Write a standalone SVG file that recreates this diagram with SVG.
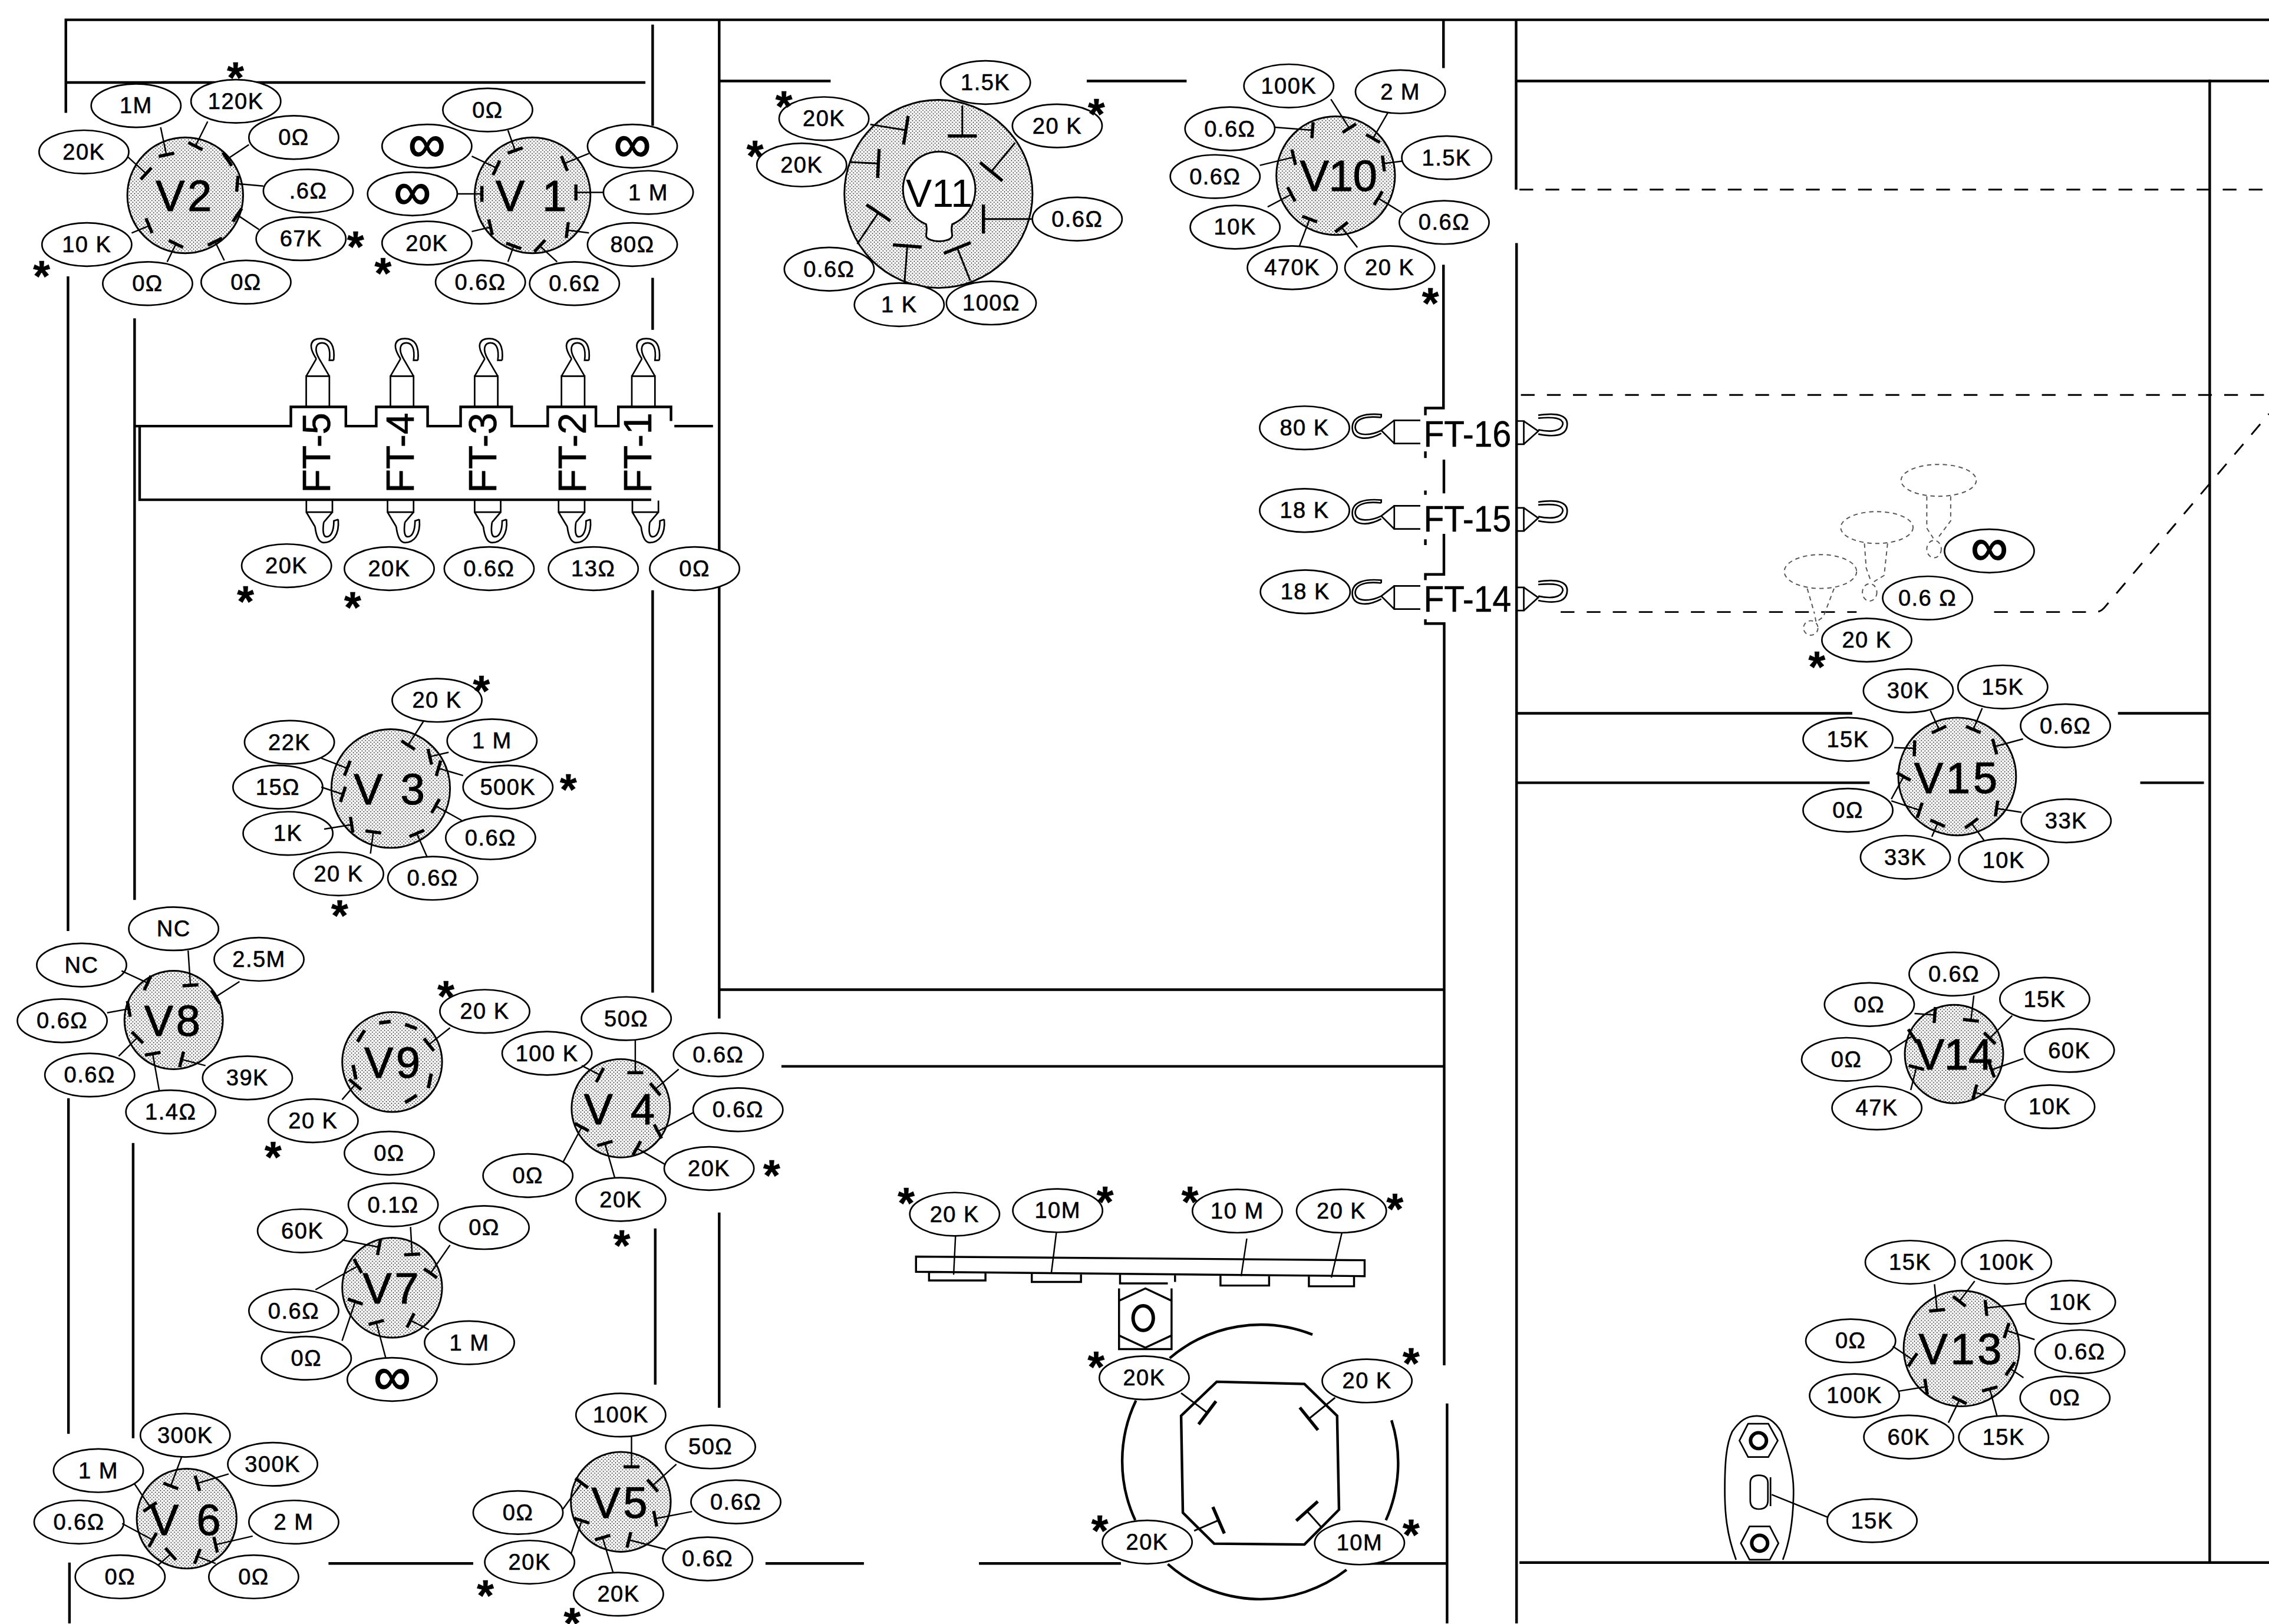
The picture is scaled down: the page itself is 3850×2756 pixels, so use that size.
<svg xmlns="http://www.w3.org/2000/svg" xmlns:xlink="http://www.w3.org/1999/xlink" width="3850" height="2756" viewBox="0 0 3850 2756">
<style>
text{font-family:"Liberation Sans",Arial,sans-serif;fill:#000;text-anchor:middle}
.t text{font-size:15.5px;dominant-baseline:central;letter-spacing:.6px;stroke:#000;stroke-width:.25px}
text.i{font-size:36px;letter-spacing:0;stroke-width:.7px}
.t use{fill:#fff;stroke:#000;stroke-width:1.1px}
text.s{font-size:30px;font-weight:bold;dominant-baseline:auto}
text.v{font-size:30px;letter-spacing:2px;stroke:#000;stroke-width:.5px;dominant-baseline:auto}
.tube{fill:url(#dots);stroke:#000;stroke-width:1.2px}
.w{fill:none;stroke:#000;stroke-width:1.8px}
.d{fill:none;stroke:#000;stroke-width:1.2px;stroke-dasharray:9.5 8.5}
.p{fill:none;stroke:#555;stroke-width:.8px;stroke-dasharray:3 2.5}
.l line{stroke:#000;stroke-width:1px;marker-end:url(#t)}
.l line.b{marker-end:url(#tl);stroke-width:1.2px}
.l line.n{marker-end:none}
.h{fill:none;stroke:#000;stroke-width:1.1px}
.m{fill:none;stroke:#000;stroke-width:1.4px}
</style>
<defs>
<pattern id="dots" width="2.4" height="2.4" patternUnits="userSpaceOnUse">
<rect width="2.4" height="2.4" fill="#fff"/>
<circle cx=".6" cy=".6" r=".36" fill="#000"/><circle cx="1.8" cy="1.8" r=".36" fill="#000"/>
</pattern>
<marker id="t" markerWidth="12" markerHeight="14" refX="6" refY="7" orient="auto" markerUnits="userSpaceOnUse"><path d="M6,1.5 V12.5" stroke="#000" stroke-width="2.2" fill="none"/></marker>
<marker id="tl" markerWidth="12" markerHeight="26" refX="6" refY="13" orient="auto" markerUnits="userSpaceOnUse"><path d="M6,3 V23" stroke="#000" stroke-width="2.2" fill="none"/></marker>
<ellipse id="o" rx="31" ry="15"/>
<g id="hu" class="h"><path d="M-8,0 V-21 H8 V0 M-8,-21 L-1,-33 M8,-21 L1,-33 M-1,-33 C-7,-42 -5,-47 2,-47 C9,-47 12,-42 11,-32 M1,-33 C-3,-40 -1,-44 3,-44 C7,-44 9,-40 8,-32 L11,-32"/></g>
<g id="hd" class="h"><path d="M-9,0 V8 H9 V0 M-9,8 L-3,18 M9,8 L3,15 M-3,18 C-2,26 0,29 3,29 C9,29 14,24 13,13 M3,15 C2,22 3,25 5,25 C8,25 10,21 10,14 L13,13"/></g>
<g id="hl" class="h"><path d="M0,-8 H-18 V8 H0 M-18,-8 L-27,-1 L-18,8 M-27,-1 C-33,2 -44,4 -45,-3 C-45,-10 -36,-11 -27,-10 M-27,1 C-36,6 -47,6 -47,-3 C-47,-11 -38,-13 -27,-12 L-27,-10"/></g>
<g id="hr" class="h"><path d="M0,-8 H5 V8 H0 M5,-8 L15,-1 L5,8 M15,1 C25,3 35,3 35,-6 C35,-12 28,-14 15,-12 M15,-2 C24,0 31,-1 32,-6 C32,-10 26,-11 15,-10"/></g>
</defs>
<rect width="3850" height="2756" fill="#fff"/>
<g transform="scale(2.4554)">
<g id="wires">
<path class="w" d="M45.5,78 V13.7 H1568 M45.5,57 H446 M47,191 V643.5 M47.3,759 V991 M48,1080 V1122 M93,220 V622 M92,790 V994 M451,17 V87 M451,192 V228 M451,408 V686 M452.8,849 V957 M497,14 V704 M497,838 V973 M497,56 H574 M751,56 H820 M997.5,14 V47 M997.5,183 V282 H985 V287 M985,312 V316.5 M997.8,317.7 V341 M985,339 V342 M985,372.7 V376.7 M997.8,369 V397 H985 V401 M985,428 V431 H998 V943.6 M1000,970 V1122 M1047.7,14 V131 M1048,168 V1122 M1048,56 H1568 M1527,55 V1080 M93,294.5 H201 V281.2 H239 V294.5 H260 V281.2 H295.5 V294.5 H318.3 V281.2 H353.6 V294.5 H378.5 V281.2 H411.8 V294.5 H427.3 V281.2 H463.7 V291 M466,294.5 H492.7 M96.5,294.5 V345.4 H450 M497,684 H998 M540,737 H998 M1048,493 H1280 M1463.6,493 H1527 M1048,541 H1292 M1479,541 H1523 M227,1080.6 H327 M529,1080.6 H597 M676.5,1080.6 H774.6 M941,1080.6 H1000 M1050,1080 H1568"/>
<path class="d" d="M1050,131 H1568 M1051,273 H1568 M1078.5,423 H1283 M1378,423 H1448 Q1452,423 1455,419 L1568,286"/>
</g>

<g id="V2" class="t">
<circle class="tube" cx="128" cy="135" r="40"/><text class="v" x="128" y="146">V2</text>
<use href="#o" x="94" y="73"/><text x="94" y="73">1M</text>
<use href="#o" x="163" y="70"/><text x="163" y="70">120K</text>
<use href="#o" x="203" y="95"/><text x="203" y="95">0Ω</text>
<use href="#o" x="213" y="132"/><text x="213" y="132">.6Ω</text>
<use href="#o" x="208" y="165"/><text x="208" y="165">67K</text>
<use href="#o" x="170" y="195"/><text x="170" y="195">0Ω</text>
<use href="#o" x="102" y="196"/><text x="102" y="196">0Ω</text>
<use href="#o" x="60" y="169"/><text x="60" y="169">10 K</text>
<use href="#o" x="58" y="105"/><text x="58" y="105">20K</text>
<text class="s" x="163" y="64">*</text><text class="s" x="246" y="181">*</text><text class="s" x="29" y="201">*</text>
</g>

<g id="V1" class="t">
<circle class="tube" cx="368" cy="135" r="40"/><text class="v" x="368" y="146">V 1</text>
<use href="#o" x="337" y="76"/><text x="337" y="76">0Ω</text>
<use href="#o" x="295" y="101"/><text class="i" x="295" y="99">∞</text>
<use href="#o" x="437" y="101"/><text class="i" x="437" y="99">∞</text>
<use href="#o" x="448" y="133"/><text x="448" y="133">1 M</text>
<use href="#o" x="437" y="169"/><text x="437" y="169">80Ω</text>
<use href="#o" x="397" y="196"/><text x="397" y="196">0.6Ω</text>
<use href="#o" x="332" y="195"/><text x="332" y="195">0.6Ω</text>
<use href="#o" x="295" y="168"/><text x="295" y="168">20K</text>
<use href="#o" x="285" y="134"/><text class="i" x="285" y="132">∞</text>
<text class="s" x="265" y="199">*</text>
</g>

<g id="V11" class="t">
<circle class="tube" cx="648.5" cy="134" r="65"/>
<path d="M640,155 A25,26 0 1 1 658,155 C657,159 658,161 658,163 C657,168 641,168 640,163 C640,161 641,159 640,155 Z" fill="#fff" stroke="#000" stroke-width="1.2"/>
<text class="v" x="649" y="143" style="font-size:27px;letter-spacing:0;stroke-width:0">V11</text>
<use href="#o" x="681" y="57"/><text x="681" y="57">1.5K</text>
<use href="#o" x="569.4" y="82"/><text x="569.4" y="82">20K</text>
<use href="#o" x="730.6" y="87"/><text x="730.6" y="87">20 K</text>
<use href="#o" x="554" y="114"/><text x="554" y="114">20K</text>
<use href="#o" x="744.4" y="151.4"/><text x="744.4" y="151.4">0.6Ω</text>
<use href="#o" x="573" y="186"/><text x="573" y="186">0.6Ω</text>
<use href="#o" x="621.4" y="210.6"/><text x="621.4" y="210.6">1 K</text>
<use href="#o" x="685" y="209.4"/><text x="685" y="209.4">100Ω</text>
<text class="s" x="542" y="84">*</text><text class="s" x="522" y="118">*</text><text class="s" x="758" y="89">*</text>
</g>

<g id="V10" class="t">
<circle class="tube" cx="923" cy="121.4" r="41"/><text class="v" x="925" y="132" style="letter-spacing:0">V10</text>
<use href="#o" x="890.6" y="59.4"/><text x="890.6" y="59.4">100K</text>
<use href="#o" x="967.7" y="63.4"/><text x="967.7" y="63.4">2 M</text>
<use href="#o" x="849.9" y="89"/><text x="849.9" y="89">0.6Ω</text>
<use href="#o" x="999.7" y="109"/><text x="999.7" y="109">1.5K</text>
<use href="#o" x="839.7" y="122"/><text x="839.7" y="122">0.6Ω</text>
<use href="#o" x="998" y="153.7"/><text x="998" y="153.7">0.6Ω</text>
<use href="#o" x="853.5" y="157"/><text x="853.5" y="157">10K</text>
<use href="#o" x="893" y="185"/><text x="893" y="185">470K</text>
<use href="#o" x="960.4" y="185"/><text x="960.4" y="185">20 K</text>
<text class="s" x="988.8" y="220">*</text>
</g>

<g id="V3" class="t">
<circle class="tube" cx="270" cy="545" r="41"/><text class="v" x="270" y="556">V 3</text>
<use href="#o" x="302" y="484"/><text x="302" y="484">20 K</text>
<use href="#o" x="200" y="513"/><text x="200" y="513">22K</text>
<use href="#o" x="340" y="512"/><text x="340" y="512">1 M</text>
<use href="#o" x="192" y="544"/><text x="192" y="544">15Ω</text>
<use href="#o" x="351" y="544"/><text x="351" y="544">500K</text>
<use href="#o" x="199" y="576"/><text x="199" y="576">1K</text>
<use href="#o" x="339" y="579"/><text x="339" y="579">0.6Ω</text>
<use href="#o" x="234" y="604"/><text x="234" y="604">20 K</text>
<use href="#o" x="299" y="607"/><text x="299" y="607">0.6Ω</text>
<text class="s" x="333" y="488">*</text><text class="s" x="393" y="556">*</text><text class="s" x="235" y="643">*</text>
</g>

<g id="V8" class="t">
<circle class="tube" cx="120" cy="705" r="34"/><text class="v" x="120" y="716">V8</text>
<use href="#o" x="120" y="641.9"/><text x="120" y="641.9">NC</text>
<use href="#o" x="56.4" y="667"/><text x="56.4" y="667">NC</text>
<use href="#o" x="179" y="663"/><text x="179" y="663">2.5M</text>
<use href="#o" x="43" y="705.5"/><text x="43" y="705.5">0.6Ω</text>
<use href="#o" x="171" y="745"/><text x="171" y="745">39K</text>
<use href="#o" x="62" y="743"/><text x="62" y="743">0.6Ω</text>
<use href="#o" x="118" y="768.5"/><text x="118" y="768.5">1.4Ω</text>
</g>

<g id="V9" class="t">
<circle class="tube" cx="271" cy="734" r="34.5"/><text class="v" x="272" y="745">V9</text>
<use href="#o" x="335" y="699"/><text x="335" y="699">20 K</text>
<use href="#o" x="216.4" y="774.6"/><text x="216.4" y="774.6">20 K</text>
<use href="#o" x="269" y="797"/><text x="269" y="797">0Ω</text>
<text class="s" x="308.4" y="699">*</text><text class="s" x="189" y="810">*</text>
</g>

<g id="V4" class="t">
<circle class="tube" cx="429" cy="766" r="34"/><text class="v" x="429" y="777">V 4</text>
<use href="#o" x="432.8" y="704"/><text x="432.8" y="704">50Ω</text>
<use href="#o" x="378" y="728"/><text x="378" y="728">100 K</text>
<use href="#o" x="496.4" y="729"/><text x="496.4" y="729">0.6Ω</text>
<use href="#o" x="510" y="767"/><text x="510" y="767">0.6Ω</text>
<use href="#o" x="490" y="807.6"/><text x="490" y="807.6">20K</text>
<use href="#o" x="429" y="829"/><text x="429" y="829">20K</text>
<use href="#o" x="364.8" y="812.5"/><text x="364.8" y="812.5">0Ω</text>
<text class="s" x="533.5" y="822.6">*</text><text class="s" x="430" y="871">*</text>
</g>

<g id="V7" class="t">
<circle class="tube" cx="271" cy="890" r="34.5"/><text class="v" x="271" y="901">V7</text>
<use href="#o" x="271.7" y="832.7"/><text x="271.7" y="832.7">0.1Ω</text>
<use href="#o" x="209" y="850.7"/><text x="209" y="850.7">60K</text>
<use href="#o" x="334.6" y="848.4"/><text x="334.6" y="848.4">0Ω</text>
<use href="#o" x="203" y="906"/><text x="203" y="906">0.6Ω</text>
<use href="#o" x="211.7" y="938.7"/><text x="211.7" y="938.7">0Ω</text>
<use href="#o" x="271" y="953.4"/><text class="i" x="271" y="951">∞</text>
<use href="#o" x="324.4" y="928"/><text x="324.4" y="928">1 M</text>
</g>

<g id="V6" class="t">
<circle class="tube" cx="129" cy="1049.6" r="34.5"/><text class="v" x="129" y="1061">V 6</text>
<use href="#o" x="128" y="992"/><text x="128" y="992">300K</text>
<use href="#o" x="68" y="1016.4"/><text x="68" y="1016.4">1 M</text>
<use href="#o" x="188.4" y="1012"/><text x="188.4" y="1012">300K</text>
<use href="#o" x="54.6" y="1052"/><text x="54.6" y="1052">0.6Ω</text>
<use href="#o" x="203" y="1052"/><text x="203" y="1052">2 M</text>
<use href="#o" x="83" y="1089.8"/><text x="83" y="1089.8">0Ω</text>
<use href="#o" x="175.3" y="1089.8"/><text x="175.3" y="1089.8">0Ω</text>
</g>

<g id="V5" class="t">
<circle class="tube" cx="429" cy="1038" r="34.5"/><text class="v" x="429" y="1049">V5</text>
<use href="#o" x="429" y="978"/><text x="429" y="978">100K</text>
<use href="#o" x="491" y="1000"/><text x="491" y="1000">50Ω</text>
<use href="#o" x="508.5" y="1038"/><text x="508.5" y="1038">0.6Ω</text>
<use href="#o" x="358" y="1045.4"/><text x="358" y="1045.4">0Ω</text>
<use href="#o" x="489" y="1077.4"/><text x="489" y="1077.4">0.6Ω</text>
<use href="#o" x="366" y="1079.7"/><text x="366" y="1079.7">20K</text>
<use href="#o" x="427.4" y="1101.8"/><text x="427.4" y="1101.8">20K</text>
<text class="s" x="335.7" y="1113">*</text><text class="s" x="395.7" y="1132">*</text>
</g>

<g id="V15" class="t">
<circle class="tube" cx="1352.5" cy="536.7" r="40.7"/><text class="v" x="1352.5" y="548">V15</text>
<use href="#o" x="1318.7" y="477.4"/><text x="1318.7" y="477.4">30K</text>
<use href="#o" x="1384" y="474.8"/><text x="1384" y="474.8">15K</text>
<use href="#o" x="1427.3" y="501.6"/><text x="1427.3" y="501.6">0.6Ω</text>
<use href="#o" x="1277" y="511"/><text x="1277" y="511">15K</text>
<use href="#o" x="1277" y="560"/><text x="1277" y="560">0Ω</text>
<use href="#o" x="1427.8" y="567.3"/><text x="1427.8" y="567.3">33K</text>
<use href="#o" x="1316.7" y="592.5"/><text x="1316.7" y="592.5">33K</text>
<use href="#o" x="1384.6" y="594.6"/><text x="1384.6" y="594.6">10K</text>
</g>

<g id="V14" class="t">
<circle class="tube" cx="1350.3" cy="728.5" r="34"/><text class="v" x="1350.3" y="739" style="letter-spacing:0">V14</text>
<use href="#o" x="1350.3" y="673.2"/><text x="1350.3" y="673.2">0.6Ω</text>
<use href="#o" x="1291.8" y="694.3"/><text x="1291.8" y="694.3">0Ω</text>
<use href="#o" x="1413" y="690.6"/><text x="1413" y="690.6">15K</text>
<use href="#o" x="1276" y="732.2"/><text x="1276" y="732.2">0Ω</text>
<use href="#o" x="1430" y="726"/><text x="1430" y="726">60K</text>
<use href="#o" x="1297" y="765.8"/><text x="1297" y="765.8">47K</text>
<use href="#o" x="1416.5" y="764.9"/><text x="1416.5" y="764.9">10K</text>
</g>

<g id="V13" class="t">
<circle class="tube" cx="1355.5" cy="932" r="40"/><text class="v" x="1355.5" y="943">V13</text>
<use href="#o" x="1320" y="872.4"/><text x="1320" y="872.4">15K</text>
<use href="#o" x="1386.6" y="872.4"/><text x="1386.6" y="872.4">100K</text>
<use href="#o" x="1430.8" y="900"/><text x="1430.8" y="900">10K</text>
<use href="#o" x="1278.9" y="926.7"/><text x="1278.9" y="926.7">0Ω</text>
<use href="#o" x="1437.3" y="934.2"/><text x="1437.3" y="934.2">0.6Ω</text>
<use href="#o" x="1427" y="966.2"/><text x="1427" y="966.2">0Ω</text>
<use href="#o" x="1281.5" y="964.6"/><text x="1281.5" y="964.6">100K</text>
<use href="#o" x="1319" y="993.2"/><text x="1319" y="993.2">60K</text>
<use href="#o" x="1384.6" y="993.5"/><text x="1384.6" y="993.5">15K</text>
</g>

<g id="FT-1-5" class="t">
<text transform="translate(228,313) rotate(-90)" style="font-size:27px;letter-spacing:0;dominant-baseline:auto">FT-5</text>
<text transform="translate(285.7,313) rotate(-90)" style="font-size:27px;letter-spacing:0;dominant-baseline:auto">FT-4</text>
<text transform="translate(342.8,313) rotate(-90)" style="font-size:27px;letter-spacing:0;dominant-baseline:auto">FT-3</text>
<text transform="translate(405,313) rotate(-90)" style="font-size:27px;letter-spacing:0;dominant-baseline:auto">FT-2</text>
<text transform="translate(450,313) rotate(-90)" style="font-size:27px;letter-spacing:0;dominant-baseline:auto">FT-1</text>
<use href="#hu" x="219.6" y="281" style="fill:none"/><use href="#hu" x="277.8" y="281" style="fill:none"/><use href="#hu" x="336" y="281" style="fill:none"/><use href="#hu" x="396" y="281" style="fill:none"/><use href="#hu" x="444.6" y="281" style="fill:none"/>
<use href="#hd" x="220.7" y="346" style="fill:none"/><use href="#hd" x="276.8" y="346" style="fill:none"/><use href="#hd" x="337" y="346" style="fill:none"/><use href="#hd" x="395" y="346" style="fill:none"/><use href="#hd" x="446" y="346" style="fill:none"/>
<use href="#o" x="198" y="391"/><text x="198" y="391">20K</text>
<use href="#o" x="269" y="393"/><text x="269" y="393">20K</text>
<use href="#o" x="338" y="393"/><text x="338" y="393">0.6Ω</text>
<use href="#o" x="410" y="393"/><text x="410" y="393">13Ω</text>
<use href="#o" x="480" y="393"/><text x="480" y="393">0Ω</text>
<text class="s" x="170" y="426">*</text><text class="s" x="244" y="430">*</text>
</g>

<g id="FT-14-16" class="t">
<text x="1014" y="308.7" textLength="60.5" lengthAdjust="spacingAndGlyphs" style="font-size:26px;letter-spacing:0;dominant-baseline:auto">FT-16</text>
<text x="1014" y="367.2" textLength="60.5" lengthAdjust="spacingAndGlyphs" style="font-size:26px;letter-spacing:0;dominant-baseline:auto">FT-15</text>
<text x="1014" y="422.9" textLength="60.5" lengthAdjust="spacingAndGlyphs" style="font-size:26px;letter-spacing:0;dominant-baseline:auto">FT-14</text>
<use href="#hl" x="981.5" y="298.5" style="fill:none"/><use href="#hl" x="981.5" y="357.6" style="fill:none"/><use href="#hl" x="981.5" y="413" style="fill:none"/>
<use href="#hr" x="1048" y="299" style="fill:none"/><use href="#hr" x="1048" y="359" style="fill:none"/><use href="#hr" x="1048" y="414" style="fill:none"/>
<use href="#o" x="901.5" y="295.7"/><text x="901.5" y="295.7">80 K</text>
<use href="#o" x="901.5" y="352.8"/><text x="901.5" y="352.8">18 K</text>
<use href="#o" x="902" y="409"/><text x="902" y="409">18 K</text>
</g>

<g id="probes" class="t">
<ellipse class="p" cx="1339.7" cy="332" rx="26" ry="11"/><path class="p" d="M1331.5,343 V365 L1336,372 M1348,343 V360 L1339,372"/><ellipse class="p" cx="1336.5" cy="379.5" rx="5" ry="6"/>
<ellipse class="p" cx="1297" cy="364.6" rx="25" ry="11"/><path class="p" d="M1288.4,375.6 L1289.6,392.5 L1293,402 M1304.4,375.6 L1302,397.7 L1295,402"/><ellipse class="p" cx="1292" cy="409.4" rx="5" ry="6"/>
<ellipse class="p" cx="1258" cy="395" rx="25" ry="11.7"/><path class="p" d="M1248.9,406.8 L1253.8,423.7 M1267.4,406.8 L1260,426.3 L1255,430 L1253.8,423.7"/><ellipse class="p" cx="1251.3" cy="434" rx="5" ry="5"/>
<use href="#o" x="1374.7" y="380.8"/><text class="i" x="1374.7" y="378">∞</text>
<use href="#o" x="1332" y="413.3"/><text x="1332" y="413.3">0.6 Ω</text>
<use href="#o" x="1290" y="442.4"/><text x="1290" y="442.4">20 K</text>
<text class="s" x="1255.8" y="471.4">*</text>
</g>

<g id="lug" class="t">
<path class="h" d="M1199.7,1078 C1193,1060 1191.9,1045 1191.9,1030 C1191.9,1010 1193,998 1197,989.5 C1202,982 1207,978.6 1214,978.6 C1222,978.6 1227,983 1230.8,989.5 C1236,1005 1239.4,1018 1239.4,1030 C1239.4,1050 1237,1065 1232,1078"/>
<path class="h" d="M1202,995.7 L1208,984 H1222 L1228.5,995.7 L1222,1007 H1208 Z M1203,1066.6 L1209,1055 H1223 L1229,1066.6 L1223,1078 H1209 Z M1209.5,1025 Q1209.5,1019.6 1215.5,1019.6 Q1221.7,1019.6 1221.7,1025 V1037 Q1221.7,1043 1215.5,1043 Q1209.5,1043 1209.5,1037 Z M1223.5,1021 V1041"/>
<circle cx="1215.2" cy="995.7" r="5.5" fill="none" stroke="#000" stroke-width="2.4"/>
<circle cx="1216" cy="1066.6" r="5.5" fill="none" stroke="#000" stroke-width="2.4"/>
<use href="#o" x="1293.7" y="1051"/><text x="1293.7" y="1051">15K</text>
</g>

<g id="switch-bar" class="t">
<path class="m" d="M633,868.5 L943,871 V882 L633,879 Z M642,879 V885 H681 V879.5 M713,880 V886 H747 V880.5 M774,880.5 V887 H807 M812,881 V886 M843.4,881 V888.5 H877 V881.5 M904.5,882 V889 H935.7 V882"/>
<path class="m" d="M791.5,890.5 L809.6,899 V923 L791.5,931.4 L773.3,923 V899 Z M773.3,890.5 V932.4 H809.6 V890.5"/>
<ellipse cx="790" cy="911" rx="7" ry="8.5" fill="none" stroke="#000" stroke-width="2.4"/>
<use href="#o" x="659.7" y="839.2"/><text x="659.7" y="839.2">20 K</text>
<use href="#o" x="730.9" y="836.7"/><text x="730.9" y="836.7">10M</text>
<use href="#o" x="855" y="837"/><text x="855" y="837">10 M</text>
<use href="#o" x="927" y="837"/><text x="927" y="837">20 K</text>
<text class="s" x="626.5" y="842">*</text><text class="s" x="764" y="841">*</text><text class="s" x="822.6" y="841">*</text><text class="s" x="964.2" y="846">*</text>
</g>

<g id="ring" class="t">
<path class="w" d="M808.3,938.7 A97,97 0 0 1 907,922.4 M785,968 A97,97 0 0 0 784.5,1050.7 M961.6,981.6 A97,97 0 0 1 957.7,1050.7 M807,1081 A97,97 0 0 0 930.5,1085"/>
<path class="w" d="M840.8,955 L901.4,956.5 L924,978.5 L925.3,1043.4 L901.4,1067.5 L839,1066.9 L817.4,1045.5 L816.2,978.5 Z"/>
<use href="#o" x="790.7" y="952.3"/><text x="790.7" y="952.3">20K</text>
<use href="#o" x="944.7" y="954.4"/><text x="944.7" y="954.4">20 K</text>
<use href="#o" x="792.8" y="1065.8"/><text x="792.8" y="1065.8">20K</text>
<use href="#o" x="939.5" y="1066.4"/><text x="939.5" y="1066.4">10M</text>
<text class="s" x="757.7" y="955">*</text><text class="s" x="975.4" y="952.6">*</text><text class="s" x="760.3" y="1068.2">*</text><text class="s" x="975.4" y="1071">*</text>
</g>

<g id="connectors" class="l">
<line x1="111" y1="88" x2="115" y2="107"/><line x1="143.5" y1="84" x2="135" y2="101"/><line x1="172" y1="100" x2="157" y2="110"/><line x1="182" y1="128.6" x2="164" y2="127"/><line x1="179" y1="158.6" x2="164" y2="148.6"/><line x1="155" y1="180" x2="148.6" y2="167"/><line x1="115.5" y1="181" x2="121.6" y2="168.6"/><line x1="91" y1="161" x2="103" y2="156"/><line x1="88.5" y1="108.6" x2="101" y2="120"/>
<line x1="351" y1="90" x2="356" y2="104"/><line x1="326" y1="108" x2="343" y2="116"/><line x1="407" y1="106" x2="390" y2="113"/><line x1="417" y1="133" x2="398" y2="133"/><line x1="407" y1="161" x2="392" y2="159"/><line x1="385" y1="181" x2="373" y2="170"/><line x1="351" y1="181" x2="355" y2="170"/><line x1="326" y1="160" x2="339" y2="157"/><line x1="316" y1="134" x2="333" y2="134"/>
<line class="b" x1="665" y1="73" x2="665" y2="94"/><line class="b" x1="601.4" y1="86" x2="626" y2="90"/><line class="b" x1="701.5" y1="98.6" x2="685" y2="118.6"/><line class="b" x1="587" y1="112" x2="607" y2="113"/><line class="b" x1="713" y1="151.4" x2="679.6" y2="151.4"/><line class="b" x1="592.4" y1="168.6" x2="607" y2="147"/><line class="b" x1="625" y1="196" x2="627" y2="170"/><line class="b" x1="670.5" y1="194" x2="661.5" y2="171.4"/>
<line x1="919.7" y1="68.6" x2="932.4" y2="88.6"/><line x1="959" y1="78" x2="948.8" y2="95.7"/><line x1="881" y1="88" x2="907" y2="90"/><line x1="968.8" y1="111.4" x2="956" y2="113"/><line x1="870.6" y1="114.3" x2="894" y2="108.6"/><line x1="968.8" y1="147" x2="952.4" y2="137"/><line x1="876" y1="143" x2="892.4" y2="134.3"/><line x1="898" y1="170" x2="905" y2="151.4"/><line x1="938" y1="171" x2="927" y2="157"/>
<line x1="293" y1="498" x2="282" y2="515"/><line x1="222" y1="524" x2="240" y2="531"/><line x1="310" y1="520" x2="297" y2="523"/><line x1="222" y1="544" x2="237" y2="549"/><line x1="320" y1="536" x2="303" y2="531"/><line x1="224" y1="573" x2="243" y2="570"/><line x1="319" y1="567" x2="301" y2="557"/><line x1="256" y1="590" x2="258" y2="575"/><line x1="295" y1="592" x2="288" y2="576"/>
<line x1="130" y1="657" x2="131.6" y2="681"/><line x1="84" y1="671" x2="102" y2="679.4"/><line x1="165.5" y1="678.4" x2="149" y2="689"/><line x1="74" y1="700" x2="89" y2="697.3"/><line x1="142" y1="736.5" x2="125.5" y2="732.2"/><line x1="82" y1="730" x2="95" y2="717"/><line x1="110" y1="753.5" x2="105.5" y2="728.3"/>
<line x1="311" y1="710.4" x2="296.4" y2="722"/><line x1="236.4" y1="760" x2="245.5" y2="749.5"/>
<line class="n" x1="262" y1="707" x2="270" y2="706" style="stroke-width:2.4"/><line class="n" x1="280" y1="708" x2="288" y2="711" style="stroke-width:2.4"/><line class="n" x1="298" y1="742" x2="296" y2="752" style="stroke-width:2.4"/><line class="n" x1="244" y1="736" x2="246" y2="746" style="stroke-width:2.4"/><line class="n" x1="280" y1="762" x2="288" y2="757" style="stroke-width:2.4"/><line class="n" x1="252" y1="712" x2="247" y2="720" style="stroke-width:2.4"/>
<line x1="439" y1="719" x2="439" y2="741.4"/><line x1="402" y1="736.5" x2="414.6" y2="743"/><line x1="469" y1="739" x2="452.8" y2="752.8"/><line x1="479" y1="769" x2="454.6" y2="782"/><line x1="460" y1="805" x2="440" y2="793.6"/><line x1="424.8" y1="814" x2="418" y2="790.3"/><line x1="389" y1="803.4" x2="402" y2="779"/>
<line x1="283.7" y1="848" x2="284.8" y2="867"/><line x1="236.4" y1="857" x2="261.9" y2="862"/><line x1="311" y1="860.5" x2="297.5" y2="880"/><line x1="218" y1="891.4" x2="247.3" y2="875"/><line x1="236.4" y1="926.7" x2="245.5" y2="899.6"/><line x1="266.6" y1="938.7" x2="260" y2="914"/><line x1="296.4" y1="919" x2="283.7" y2="912.6"/>
<line x1="125.5" y1="1007" x2="118" y2="1027"/><line x1="92.7" y1="1025.2" x2="103.7" y2="1041.5"/><line x1="158" y1="1018.7" x2="136.4" y2="1025.2"/><line x1="84.4" y1="1053" x2="105.5" y2="1064.3"/><line x1="174.6" y1="1061.7" x2="149" y2="1067.6"/><line x1="109" y1="1082" x2="118" y2="1074"/><line x1="149" y1="1080.6" x2="136.4" y2="1075.7"/>
<line x1="436.4" y1="992.5" x2="436.4" y2="1013.8"/><line x1="467.4" y1="1012" x2="451" y2="1026.8"/><line x1="478.3" y1="1044.7" x2="452.8" y2="1049.6"/><line x1="389" y1="1043" x2="402" y2="1025"/><line x1="460" y1="1070.8" x2="434.6" y2="1064.3"/><line x1="394.6" y1="1074" x2="402" y2="1051"/><line x1="423.7" y1="1087" x2="416.4" y2="1062.7"/>
<line x1="1334" y1="491.2" x2="1340" y2="504.2"/><line x1="1369.8" y1="489.4" x2="1363.6" y2="504.2"/><line x1="1398" y1="510.7" x2="1378.4" y2="516"/><line x1="1309" y1="516.7" x2="1323" y2="517.2"/><line x1="1307" y1="552.3" x2="1315.5" y2="536.7"/><line x1="1307" y1="553.5" x2="1326.6" y2="560"/><line x1="1397" y1="561.4" x2="1379.7" y2="558.8"/><line x1="1335" y1="578.3" x2="1339" y2="569"/><line x1="1371" y1="580.8" x2="1362.4" y2="569"/>
<line x1="1364" y1="688" x2="1362" y2="705.2"/><line x1="1323" y1="700.5" x2="1337" y2="701.5"/><line x1="1390.5" y1="702" x2="1375" y2="717.6"/><line x1="1304.8" y1="727" x2="1321.7" y2="716"/><line x1="1398.3" y1="731.6" x2="1376.3" y2="739.4"/><line x1="1320.4" y1="753.4" x2="1324.3" y2="737.8"/><line x1="1385.3" y1="760.5" x2="1364.6" y2="755"/>
<line x1="1336.8" y1="887.6" x2="1338.6" y2="905.6"/><line x1="1364.6" y1="885.4" x2="1354" y2="899.4"/><line x1="1399.6" y1="901" x2="1372.4" y2="904"/><line x1="1308" y1="930.5" x2="1321.7" y2="939.8"/><line x1="1406" y1="925.8" x2="1386.6" y2="919.6"/><line x1="1398.3" y1="952.2" x2="1389.2" y2="946"/><line x1="1312" y1="961.5" x2="1331" y2="958.4"/><line x1="1346.4" y1="983.3" x2="1354" y2="967.7"/><line x1="1380" y1="978.6" x2="1375" y2="960"/>
<line class="n" x1="1262.7" y1="1048.5" x2="1224.3" y2="1033"/>
<line class="n" x1="660.3" y1="854" x2="659" y2="881"/><line class="n" x1="730" y1="851.8" x2="726.5" y2="880"/><line class="n" x1="861.6" y1="856" x2="857.7" y2="882"/><line class="n" x1="927.3" y1="852" x2="920" y2="883"/>
<line class="b" x1="816.2" y1="962.8" x2="834.3" y2="976.4"/><line class="b" x1="922.6" y1="966" x2="904.5" y2="980.6"/><line class="b" x1="825.2" y1="1058" x2="842.1" y2="1050.7"/><line class="b" x1="913.6" y1="1056" x2="903.2" y2="1044.4"/>
</g>
</g>
</svg>
